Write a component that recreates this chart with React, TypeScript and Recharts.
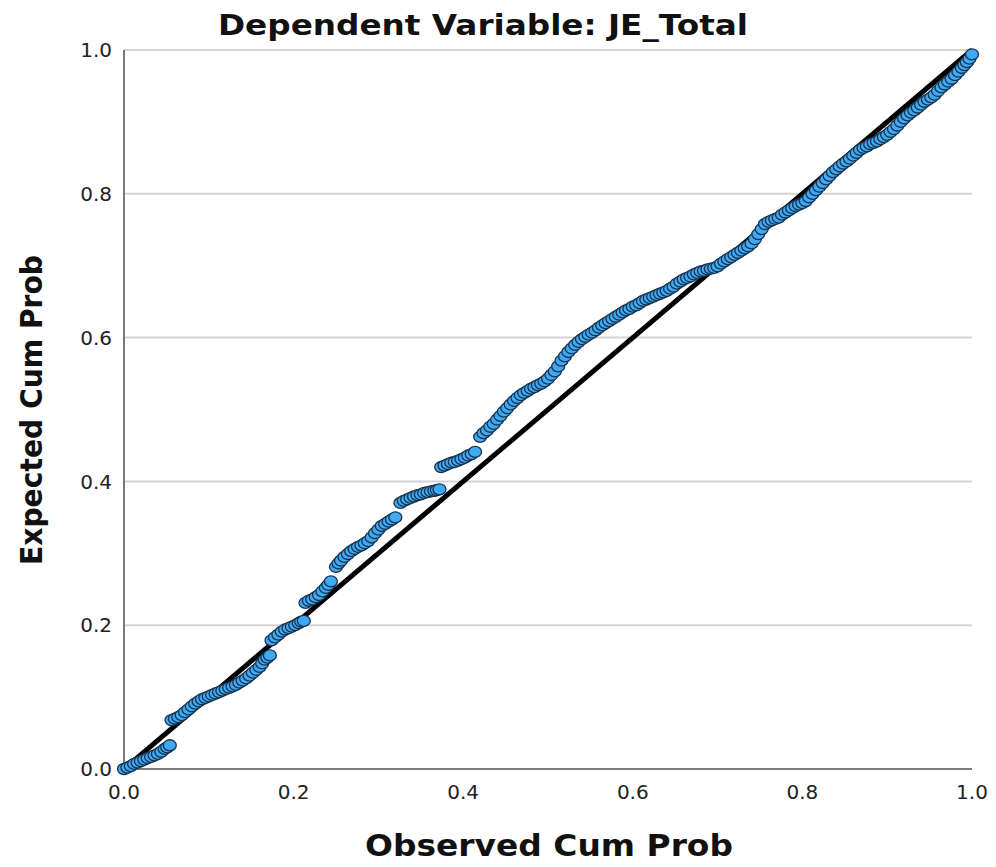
import React from 'react';
import {
  ScatterChart,
  Scatter,
  XAxis,
  YAxis,
  CartesianGrid,
  ReferenceLine,
} from 'recharts';

// observed cumulative probability (x) of each residual
const observed = [
  0.0, 0.004, 0.008, 0.012, 0.016, 0.02, 0.024, 0.028, 0.032, 0.036,
  0.04, 0.044, 0.048, 0.051, 0.054, 0.056, 0.06, 0.064, 0.068, 0.072,
  0.076, 0.08, 0.084, 0.088, 0.092, 0.096, 0.1, 0.104, 0.108, 0.112,
  0.116, 0.12, 0.124, 0.128, 0.132, 0.136, 0.14, 0.144, 0.148, 0.152,
  0.156, 0.16, 0.163, 0.166, 0.169, 0.172, 0.174, 0.178, 0.182, 0.186,
  0.19, 0.194, 0.198, 0.202, 0.206, 0.209, 0.212, 0.214, 0.218, 0.222,
  0.226, 0.23, 0.234, 0.238, 0.241, 0.244, 0.25, 0.253, 0.256, 0.26,
  0.264, 0.268, 0.272, 0.276, 0.28, 0.284, 0.288, 0.292, 0.296, 0.3,
  0.304, 0.308, 0.312, 0.316, 0.32, 0.326, 0.33, 0.334, 0.338, 0.342,
  0.346, 0.35, 0.354, 0.358, 0.362, 0.366, 0.369, 0.372, 0.374, 0.378,
  0.382, 0.386, 0.39, 0.394, 0.398, 0.402, 0.406, 0.41, 0.414, 0.42,
  0.424, 0.428, 0.432, 0.436, 0.44, 0.444, 0.448, 0.452, 0.456, 0.46,
  0.464, 0.468, 0.472, 0.476, 0.48, 0.484, 0.488, 0.492, 0.496, 0.5,
  0.504, 0.508, 0.512, 0.516, 0.52, 0.524, 0.528, 0.532, 0.536, 0.54,
  0.544, 0.548, 0.552, 0.556, 0.56, 0.564, 0.568, 0.572, 0.576, 0.58,
  0.584, 0.588, 0.592, 0.596, 0.6, 0.604, 0.608, 0.612, 0.616, 0.62,
  0.624, 0.628, 0.632, 0.636, 0.64, 0.644, 0.648, 0.652, 0.656, 0.66,
  0.664, 0.668, 0.672, 0.676, 0.68, 0.684, 0.688, 0.692, 0.696, 0.7,
  0.704, 0.708, 0.712, 0.716, 0.72, 0.724, 0.728, 0.732, 0.736, 0.74,
  0.744, 0.748, 0.752, 0.756, 0.76, 0.764, 0.768, 0.772, 0.776, 0.78,
  0.784, 0.788, 0.792, 0.796, 0.8, 0.804, 0.808, 0.812, 0.816, 0.82,
  0.824, 0.828, 0.832, 0.836, 0.84, 0.844, 0.848, 0.852, 0.856, 0.86,
  0.864, 0.868, 0.872, 0.876, 0.88, 0.884, 0.888, 0.892, 0.896, 0.9,
  0.904, 0.908, 0.912, 0.916, 0.92, 0.924, 0.928, 0.932, 0.936, 0.94,
  0.944, 0.948, 0.952, 0.956, 0.96, 0.964, 0.968, 0.972, 0.976, 0.98,
  0.984, 0.988, 0.991, 0.994, 0.997, 1.0,
];

// expected cumulative probability (y) under normality
const expected = [
  0.0, 0.002, 0.004, 0.007, 0.009, 0.011, 0.013, 0.015, 0.017, 0.019,
  0.021, 0.024, 0.028, 0.03, 0.033, 0.068, 0.07, 0.072, 0.075, 0.079,
  0.083, 0.087, 0.091, 0.094, 0.097, 0.099, 0.101, 0.103, 0.105, 0.107,
  0.109, 0.111, 0.113, 0.115, 0.117, 0.12, 0.123, 0.126, 0.13, 0.134,
  0.138, 0.142, 0.147, 0.152, 0.155, 0.158, 0.179, 0.183, 0.187, 0.191,
  0.194, 0.196, 0.198, 0.2, 0.203, 0.205, 0.206, 0.231, 0.234, 0.236,
  0.239, 0.242, 0.247, 0.252, 0.256, 0.261, 0.281, 0.286, 0.29, 0.295,
  0.299, 0.303, 0.306, 0.309, 0.311, 0.314, 0.317, 0.322, 0.328, 0.333,
  0.338, 0.341, 0.344, 0.347, 0.35, 0.37, 0.373, 0.375, 0.377, 0.379,
  0.381, 0.382, 0.384, 0.385, 0.386, 0.387, 0.388, 0.389, 0.42, 0.422,
  0.424, 0.426, 0.427, 0.429, 0.431, 0.433, 0.436, 0.438, 0.441, 0.462,
  0.467, 0.471, 0.476, 0.48, 0.486, 0.491, 0.497, 0.502, 0.507, 0.512,
  0.516, 0.52, 0.523, 0.526, 0.529, 0.531, 0.534, 0.536, 0.539, 0.543,
  0.548, 0.553, 0.56, 0.568, 0.574, 0.58, 0.585, 0.59, 0.594, 0.598,
  0.601, 0.604, 0.607, 0.61, 0.614, 0.617, 0.62, 0.623, 0.626, 0.629,
  0.632, 0.635, 0.638, 0.64, 0.643, 0.645, 0.648, 0.651, 0.653, 0.655,
  0.657, 0.659, 0.661, 0.663, 0.665, 0.668, 0.671, 0.675, 0.678, 0.681,
  0.683, 0.685, 0.688, 0.69, 0.692, 0.693, 0.695, 0.696, 0.697, 0.699,
  0.703, 0.706, 0.709, 0.712, 0.715, 0.718, 0.721, 0.724, 0.727, 0.731,
  0.737, 0.744, 0.751, 0.758, 0.761, 0.763, 0.765, 0.767, 0.771, 0.774,
  0.777, 0.78, 0.783, 0.785, 0.787, 0.79, 0.795, 0.8, 0.805, 0.81,
  0.815, 0.82, 0.825, 0.83, 0.834, 0.838, 0.842, 0.845, 0.849, 0.853,
  0.857, 0.861, 0.864, 0.866, 0.869, 0.871, 0.873, 0.876, 0.879, 0.882,
  0.886, 0.89, 0.895, 0.9, 0.905, 0.909, 0.913, 0.916, 0.92, 0.924,
  0.928, 0.931, 0.934, 0.938, 0.943, 0.948, 0.952, 0.956, 0.96, 0.965,
  0.97, 0.975, 0.979, 0.983, 0.988, 0.994,
];

const ticks = [0, 0.2, 0.4, 0.6, 0.8, 1.0];

const points = observed.map((x, i) => ({ x, y: expected[i] }));

const FONT = '"DejaVu Sans", Verdana, sans-serif';

const Dot = (props: any) => (
  <ellipse
    cx={props.cx}
    cy={props.cy}
    rx={6.5}
    ry={5.5}
    fill="#3fa9f5"
    stroke="#17324d"
    strokeWidth={1.3}
  />
);

export default function App() {
  return (
    <div style={{ position: 'relative', width: 980, height: 859 }}>
      <ScatterChart
        width={980}
        height={851}
        margin={{ top: 42, right: 16, bottom: 0, left: 0 }}
      >
        <CartesianGrid
          horizontal
          vertical={false}
          stroke="#d4d4d4"
          strokeWidth={2}
        />
        <XAxis
          type="number"
          dataKey="x"
          domain={[0, 1]}
          ticks={ticks}
          tickFormatter={(v: number) => v.toFixed(1)}
          height={90}
          tickLine={false}
          tickMargin={10}
          axisLine={{ stroke: '#7a7a7a', strokeWidth: 2 }}
          tick={{ fontSize: 20, fill: '#222', fontFamily: FONT }}
        />
        <YAxis
          type="number"
          dataKey="y"
          domain={[0, 1]}
          ticks={ticks}
          tickFormatter={(v: number) => v.toFixed(1)}
          width={116}
          tickLine={false}
          tickMargin={6}
          axisLine={{ stroke: '#7a7a7a', strokeWidth: 2 }}
          tick={{ fontSize: 20, fill: '#222', fontFamily: FONT }}
        />
        <Scatter data={points} shape={Dot} isAnimationActive={false} />
        <ReferenceLine
          segment={[
            { x: 0, y: 0 },
            { x: 1, y: 1 },
          ]}
          stroke="#000"
          strokeWidth={5}
        />
      </ScatterChart>
      <svg
        width={980}
        height={859}
        style={{ position: 'absolute', left: 0, top: 0, pointerEvents: 'none' }}
      >
        <text
          x={475}
          y={27}
          textAnchor="middle"
          fontFamily={FONT}
          fontWeight="bold"
          fontSize={29}
          fill="#111"
          textLength={530}
          lengthAdjust="spacingAndGlyphs"
        >
          Dependent Variable: JE_Total
        </text>
        <text
          x={541}
          y={848}
          textAnchor="middle"
          fontFamily={FONT}
          fontWeight="bold"
          fontSize={30}
          fill="#111"
          textLength={368}
          lengthAdjust="spacingAndGlyphs"
        >
          Observed Cum Prob
        </text>
        <text
          x={0}
          y={0}
          transform="translate(34 402) rotate(-90)"
          textAnchor="middle"
          fontFamily={FONT}
          fontWeight="bold"
          fontSize={30}
          fill="#111"
          textLength={310}
          lengthAdjust="spacingAndGlyphs"
        >
          Expected Cum Prob
        </text>
      </svg>
    </div>
  );
}
